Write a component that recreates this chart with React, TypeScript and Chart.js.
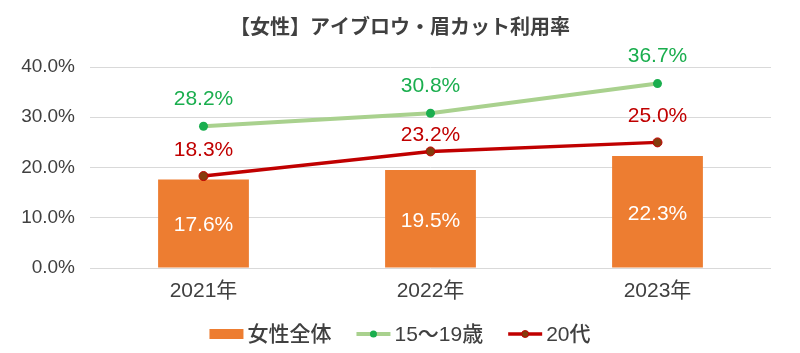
import React, { useEffect, useRef } from "react";
import { Chart, registerables } from "chart.js";

Chart.register(...registerables);

const categories = ["2021年", "2022年", "2023年"];
const womenAll = [17.6, 19.5, 22.3];
const teens = [28.2, 30.8, 36.7];
const twenties = [18.3, 23.2, 25.0];
const yTicks = [0, 10, 20, 30, 40];

const TITLE = "【女性】アイブロウ・眉カット利用率";
const FONT = "'Liberation Sans', 'Noto Sans CJK JP', sans-serif";
const TEXT = "#404040";
const ORANGE = "#ED7D31";
const GREEN_LINE = "#A9D18E";
const GREEN = "#1AAE4E";
const RED = "#C00000";
const RED_DOT = "#843C0C";

const overlay = {
  id: "overlay",
  afterDatasetsDraw(chart: any) {
    const ctx = chart.ctx;
    ctx.save();
    // title
    ctx.fillStyle = TEXT;
    ctx.font = `bold 20px ${FONT}`;
    ctx.textAlign = "center";
    ctx.textBaseline = "middle";
    ctx.fillText(TITLE, 400, 28);

    // bar labels
    const barMeta = chart.getDatasetMeta(0);
    ctx.font = `21px ${FONT}`;
    ctx.fillStyle = "#ffffff";
    barMeta.data.forEach((el: any, i: number) => {
      const cy = (el.y + el.base) / 2;
      ctx.fillText(womenAll[i].toFixed(1) + "%", el.x, cy + 2);
    });
    // line labels
    const g = chart.getDatasetMeta(1);
    ctx.fillStyle = GREEN;
    g.data.forEach((el: any, i: number) => {
      ctx.fillText(teens[i].toFixed(1) + "%", el.x, el.y - 27);
    });
    const r = chart.getDatasetMeta(2);
    ctx.fillStyle = RED;
    r.data.forEach((el: any, i: number) => {
      let y = el.y - 26;
      const gy = g.data[i].y;
      // avoid colliding with the upper line
      if (y - 10 < gy + 6) y = (gy + el.y) / 2 + 3;
      ctx.fillText(twenties[i].toFixed(1) + "%", el.x, y);
    });

    // legend
    const items = [
      { label: "女性全体", kind: "bar" },
      { label: "15～19歳", kind: "green" },
      { label: "20代", kind: "red" },
    ];
    ctx.font = `500 21px ${FONT}`;
    const sym = 34;
    const gapSymText = 4;
    const gapItems = 25;
    const widths = items.map((it) => sym + gapSymText + ctx.measureText(it.label).width);
    const total = widths.reduce((a, b) => a + b, 0) + gapItems * (items.length - 1);
    let x = 400 - total / 2;
    const ly = 334;
    items.forEach((it, i) => {
      if (it.kind === "bar") {
        ctx.fillStyle = ORANGE;
        ctx.fillRect(x, ly - 5, sym, 10);
      } else {
        const lc = it.kind === "green" ? GREEN_LINE : RED;
        ctx.strokeStyle = lc;
        ctx.lineWidth = it.kind === "green" ? 4 : 3.5;
        ctx.beginPath();
        ctx.moveTo(x, ly);
        ctx.lineTo(x + sym, ly);
        ctx.stroke();
        ctx.beginPath();
        ctx.arc(x + sym / 2, ly, 3.5, 0, Math.PI * 2);
        ctx.fillStyle = it.kind === "green" ? GREEN : RED_DOT;
        ctx.fill();
        if (it.kind === "red") {
          ctx.strokeStyle = RED;
          ctx.lineWidth = 1;
          ctx.stroke();
        }
      }
      ctx.fillStyle = TEXT;
      ctx.textAlign = "left";
      ctx.fillText(it.label, x + sym + gapSymText, ly + 1);
      x += widths[i] + gapItems;
    });
    ctx.restore();
  },
};

export default function App() {
  const ref = useRef<HTMLCanvasElement>(null);
  useEffect(() => {
    document.body.style.margin = "0";
    const chart = new Chart(ref.current!, {
      type: "bar",
      data: {
        labels: categories,
        datasets: [
          {
            type: "bar",
            label: "女性全体",
            data: womenAll,
            backgroundColor: ORANGE,
            barPercentage: 0.4,
            categoryPercentage: 1,
            order: 3,
          },
          {
            type: "line",
            label: "15～19歳",
            data: teens,
            borderColor: GREEN_LINE,
            borderWidth: 4,
            pointRadius: 4.5,
            pointBackgroundColor: GREEN,
            pointBorderColor: GREEN,
            pointBorderWidth: 0,
            order: 1,
          },
          {
            type: "line",
            label: "20代",
            data: twenties,
            borderColor: RED,
            borderWidth: 3.5,
            pointRadius: 4.5,
            pointBackgroundColor: RED_DOT,
            pointBorderColor: RED,
            pointBorderWidth: 1,
            order: 2,
          },
        ] as any,
      },
      options: {
        animation: false,
        responsive: false,
        maintainAspectRatio: false,
        layout: { padding: { top: 67, right: 29, bottom: 30, left: 0 } },
        plugins: {
          legend: { display: false },
          title: { display: false },
          tooltip: { enabled: false },
        },
        scales: {
          x: {
            grid: { display: false, drawTicks: false },
            border: { display: false },
            ticks: { color: TEXT, font: { family: FONT, size: 21 }, padding: 11 },
            afterFit(scale: any) {
              scale.height = 55;
            },
          },
          y: {
            min: 0,
            max: 40,
            afterBuildTicks(scale: any) {
              scale.ticks = yTicks.map((v) => ({ value: v }));
            },
            grid: { color: "#D9D9D9", lineWidth: 1, drawTicks: false },
            border: { display: false },
            ticks: {
              color: TEXT,
              font: { family: FONT, size: 19 },
              padding: 15,
              callback: (v: any) => Number(v).toFixed(1) + "%",
            },
            afterFit(scale: any) {
              scale.width = 90;
            },
          },
        },
      },
      plugins: [overlay],
    });
    return () => chart.destroy();
  }, []);
  return <canvas ref={ref} width={800} height={353} style={{ display: "block" }} />;
}
